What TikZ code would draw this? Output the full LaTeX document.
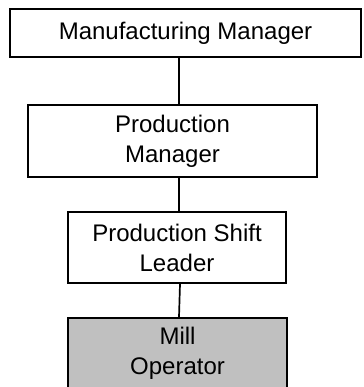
\documentclass[tikz,border=0pt]{standalone}
\usepackage{fontspec}
\setmainfont{Liberation Sans}
\begin{document}
\begin{tikzpicture}[x=1pt,y=-1pt,
  orgbox/.style={draw=black, line width=1.7pt, fill=white, rectangle, inner sep=0pt,
    align=center, font={\fontsize{24}{30}\selectfont}},
  link/.style={draw=black, line width=1.7pt}]
  \useasboundingbox (0,0) rectangle (363,387);
  \clip (0,0) rectangle (363,387);
  % boxes (centre, width, height)
  \node[orgbox, minimum width=351pt, minimum height=48pt] (mfg) at (185.5,33) {Manufacturing Manager};
  \node[orgbox, minimum width=289pt, minimum height=72pt] (prod) at (172.5,141) {Production\\Manager};
  \node[orgbox, minimum width=218pt, minimum height=71pt] (shift) at (177,247.5) {Production Shift\\Leader};
  \node[orgbox, fill={rgb,255:red,192;green,192;blue,192}, minimum width=219pt, minimum height=71pt] (mill) at (177.5,353.5) {Mill\\Operator};
  % reporting lines
  \coordinate (trunk) at (179,0);
  \coordinate (trunkb) at (180,0);
  \draw[link] (mfg.south -| trunk) -- (prod.north -| trunk);
  \draw[link] (prod.south -| trunk) -- (shift.north -| trunk);
  \draw[link] (shift.south -| trunkb) -- (mill.north -| trunk);
\end{tikzpicture}
\end{document}
